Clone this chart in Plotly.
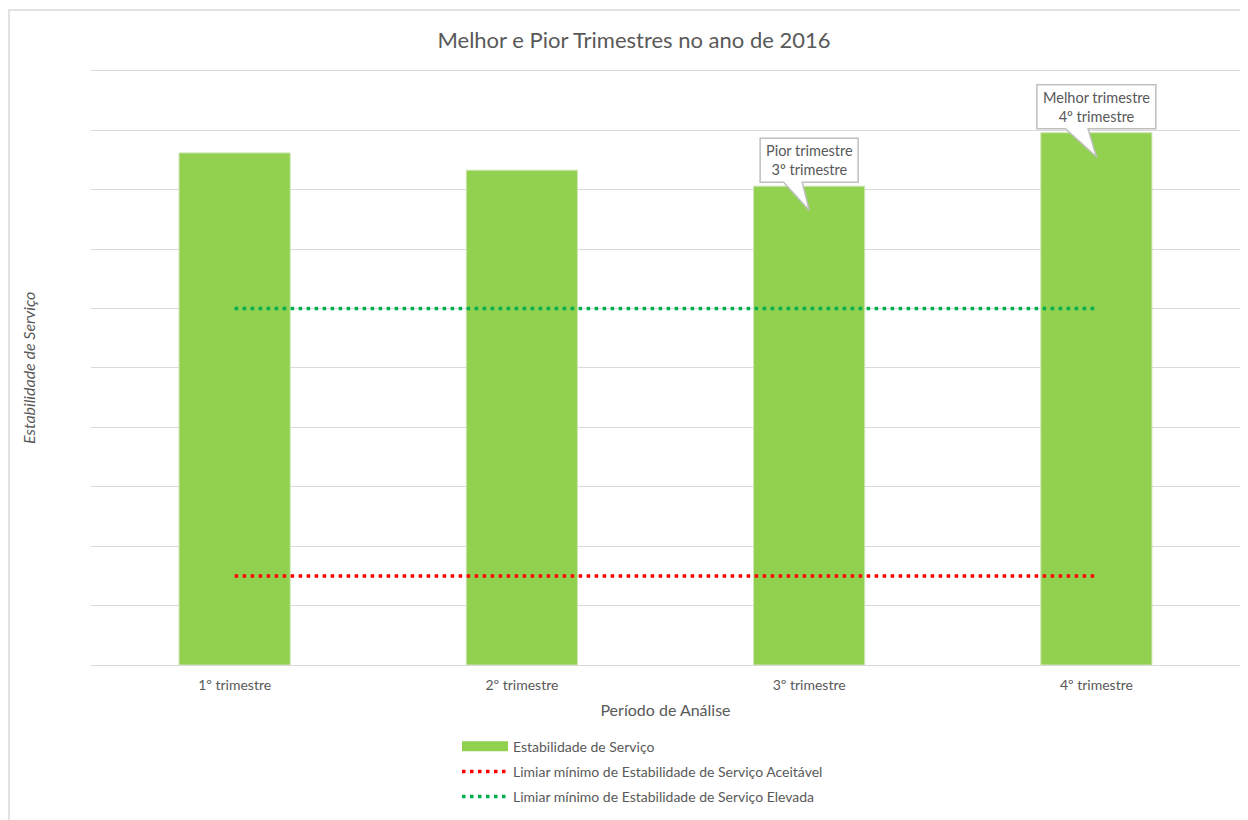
import plotly.graph_objects as go

categories = ["1º trimestre", "2º trimestre", "3º trimestre", "4º trimestre"]
estabilidade = [86.2, 83.3, 80.6, 89.6]
limiar_aceitavel = [15, 15, 15, 15]
limiar_elevada = [60, 60, 60, 60]

callouts = [
    {"idx": 2, "text": "Pior trimestre<br>3º trimestre", "w": 98},
    {"idx": 3, "text": "Melhor trimestre<br>4º trimestre", "w": 119},
]

GREEN = "#92D050"
TXT = "#595959"
FONT = "Lato"

# figure is placed at (8,8) in the page (default body margin)
W, H = 1240, 812
L, T, R, B = 83, 57, 8, 155
PW = W - L - R
PH = H - T - B

fig = go.Figure()

fig.add_trace(go.Bar(
    x=categories, y=estabilidade, name="Estabilidade de Serviço",
    marker=dict(color=GREEN, line=dict(color="#cfe6b4", width=1)),
    showlegend=False,
))
fig.add_trace(go.Scatter(
    x=[None], y=[None], mode="lines", name="Estabilidade de Serviço",
    line=dict(color=GREEN, width=12), legendrank=1, legendgroup="a",
))
fig.add_trace(go.Scatter(
    x=categories, y=limiar_aceitavel, mode="lines",
    name="Limiar mínimo de Estabilidade de Serviço Aceitável",
    line=dict(color="#FF0000", width=3.5, dash="3.5px,4.5px"), legendrank=2, legendgroup="b",
))
fig.add_trace(go.Scatter(
    x=categories, y=limiar_elevada, mode="lines",
    name="Limiar mínimo de Estabilidade de Serviço Elevada",
    line=dict(color="#00B050", width=3.5, dash="3.5px,4.5px"), legendrank=3, legendgroup="c",
))

shapes = []
annotations = []
for c in callouts:
    i = c["idx"]
    v = estabilidade[i]
    w = c["w"]
    left = -w / 2
    right = w / 2
    top = 48
    bot = 4
    b1 = left + w * 0.24
    b2 = left + w * 0.43
    path = (f"M {left},{bot} L {b1},{bot} L 0,-24 L {b2},{bot} L {right},{bot} "
            f"L {right},{top} L {left},{top} Z")
    shapes.append(dict(
        type="path", xref="x", yref="y", xsizemode="pixel", ysizemode="pixel",
        xanchor=i, yanchor=v, path=path,
        fillcolor="white", line=dict(color="#bfbfbf", width=1.5), layer="above",
    ))
    annotations.append(dict(
        x=i, y=v, xref="x", yref="y", text=c["text"], showarrow=False,
        yshift=(top + bot) / 2, font=dict(family=FONT, size=14.5, color=TXT),
        align="center",
    ))

shapes.append(dict(
    type="rect", xref="paper", yref="paper",
    x0=(1 - L) / PW, x1=1.05, y0=-0.4, y1=(PH + T - 2) / PH,
    line=dict(color="#d9d9d9", width=1.5), fillcolor="rgba(0,0,0,0)", layer="below",
))

annotations.append(dict(
    text="Estabilidade de Serviço", xref="paper", yref="paper",
    x=(20 - L) / PW, y=(PH + T - 360) / PH, textangle=-90, showarrow=False,
    font=dict(family=FONT, size=16, color=TXT, style="italic"),
    xanchor="center", yanchor="middle",
))

fig.update_layout(
    width=W, height=H,
    margin=dict(l=L, r=R, t=T, b=B, autoexpand=False),
    paper_bgcolor="white", plot_bgcolor="white",
    font=dict(family=FONT, color=TXT, size=14),
    title=dict(text="Melhor e Pior Trimestres no ano de 2016", xref="container",
               x=626 / W, xanchor="center", y=1 - 32 / H, yanchor="middle",
               font=dict(family=FONT, size=22, color=TXT)),
    bargap=0.613,
    xaxis=dict(
        type="category", showgrid=False, showline=True, linecolor="#d9d9d9", linewidth=1,
        ticks="", tickfont=dict(family=FONT, size=14, color=TXT), ticklabelstandoff=7,
        title=dict(text="Período de Análise", font=dict(family=FONT, size=16, color=TXT), standoff=13),
    ),
    yaxis=dict(
        range=[0, 101], dtick=10, showgrid=True, gridcolor="#d9d9d9", gridwidth=1,
        showticklabels=False, zeroline=False, ticks="",
    ),
    legend=dict(
        orientation="v", x=(449 - L) / PW, xanchor="left",
        y=(PH + T - 722.6) / PH, yanchor="top",
        font=dict(family=FONT, size=14, color=TXT), tracegroupgap=4,
        itemwidth=46, bgcolor="rgba(0,0,0,0)",
    ),
    shapes=shapes, annotations=annotations,
)

fig.write_html("out.html")
